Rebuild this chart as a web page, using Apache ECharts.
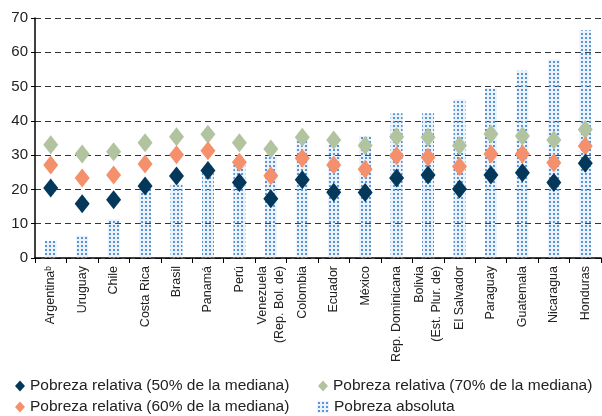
<!DOCTYPE html>
<html>
<head>
<meta charset="utf-8">
<script src="https://cdn.jsdelivr.net/npm/echarts@6/dist/echarts.min.js"></script>
<style>
  html, body { margin: 0; padding: 0; background: #fff; }
  #chart { width: 602px; height: 416px; }
</style>
</head>
<body>
<div id="chart"></div>
<script>
var paises = ["Argentinaᵇ", "Uruguay", "Chile", "Costa Rica", "Brasil", "Panamá", "Perú",
  "Venezuela\n(Rep. Bol. de)", "Colombia", "Ecuador", "México", "Rep. Dominicana",
  "Bolivia\n(Est. Plur. de)", "El Salvador", "Paraguay", "Guatemala", "Nicaragua", "Honduras"];
var absoluta = [5, 6.5, 11.3, 20, 21.5, 25, 28, 29.6, 34.4, 33, 35.6, 42.2, 42.2, 46.3, 49.5, 54.6, 57.9, 66.4];
var rel50 = [20.4, 15.8, 17.0, 21.0, 23.9, 25.5, 22.0, 17.3, 22.8, 19.2, 19.1, 23.3, 24.2, 20.1, 24.2, 24.9, 22.0, 27.6];
var rel60 = [27.1, 23.3, 24.2, 27.4, 30.1, 31.3, 27.9, 24.0, 29.1, 27.1, 25.9, 29.8, 29.4, 26.7, 30.3, 30.3, 27.8, 32.7];
var rel70 = [33.0, 30.3, 31.0, 33.6, 35.4, 36.1, 33.6, 31.8, 35.2, 34.4, 32.8, 35.4, 35.2, 32.8, 36.2, 35.6, 34.4, 37.5];

// patrón de puntos para las barras
var tile = document.createElement("canvas");
tile.width = 4; tile.height = 4;
var ctx = tile.getContext("2d");
ctx.fillStyle = "rgba(120,165,220,0.15)";
ctx.fillRect(0, 0, 4, 4);
ctx.fillStyle = "#5a94d8";
ctx.fillRect(1, 1, 2, 2);
var dots = { image: tile, repeat: "repeat" };

var fuente = "Liberation Sans, Arial, sans-serif";
var nombres = ["Pobreza relativa (50% de la mediana)", "Pobreza relativa (60% de la mediana)",
  "Pobreza relativa (70% de la mediana)", "Pobreza absoluta"];

function leyenda(nombre, icono, left, top, w, h) {
  return {
    left: left, top: top, itemWidth: w, itemHeight: h, itemGap: 0,
    textStyle: { fontSize: 15.5, color: "#222", fontFamily: fuente },
    data: [{ name: nombre, icon: icono }]
  };
}

var option = {
  animation: false,
  textStyle: { fontFamily: fuente },
  grid: { left: 35, right: 1, top: 18, bottom: 158 },
  legend: [
    leyenda(nombres[0], "diamond", 10, 373, 10, 11),
    leyenda(nombres[1], "diamond", 10, 394, 10, 11),
    leyenda(nombres[2], "diamond", 313, 373, 10, 11),
    leyenda(nombres[3], "rect", 312, 394, 12, 12)
  ],
  xAxis: {
    type: "category",
    data: paises,
    axisLine: { lineStyle: { color: "#000", width: 1.5 } },
    axisTick: { show: true, length: 5, lineStyle: { color: "#000" } },
    axisLabel: { rotate: 90, fontSize: 12.5, color: "#222", margin: 8, lineHeight: 17, fontFamily: fuente }
  },
  yAxis: {
    type: "value",
    min: 0, max: 70, interval: 10,
    axisLine: { show: true, lineStyle: { color: "#000", width: 1.5 } },
    axisTick: { show: true, length: 4, lineStyle: { color: "#000" } },
    axisLabel: { fontSize: 15, color: "#222", margin: 7, fontFamily: fuente },
    splitLine: { lineStyle: { color: "#333", type: [6, 4], width: 1 } }
  },
  series: [
    {
      name: nombres[3], type: "bar", data: absoluta, barWidth: 12, z: 1,
      itemStyle: { color: dots }
    },
    {
      name: nombres[2], type: "scatter", data: rel70, symbol: "diamond", symbolSize: [15, 19], z: 3,
      itemStyle: { color: "#b1c49f", opacity: 1 }
    },
    {
      name: nombres[1], type: "scatter", data: rel60, symbol: "diamond", symbolSize: [15, 19], z: 4,
      itemStyle: { color: "#f4906c", opacity: 1 }
    },
    {
      name: nombres[0], type: "scatter", data: rel50, symbol: "diamond", symbolSize: [15, 19], z: 5,
      itemStyle: { color: "#04385a", opacity: 1 }
    }
  ]
};

var myChart = echarts.init(document.getElementById("chart"));
myChart.setOption(option);
</script>
</body>
</html>
